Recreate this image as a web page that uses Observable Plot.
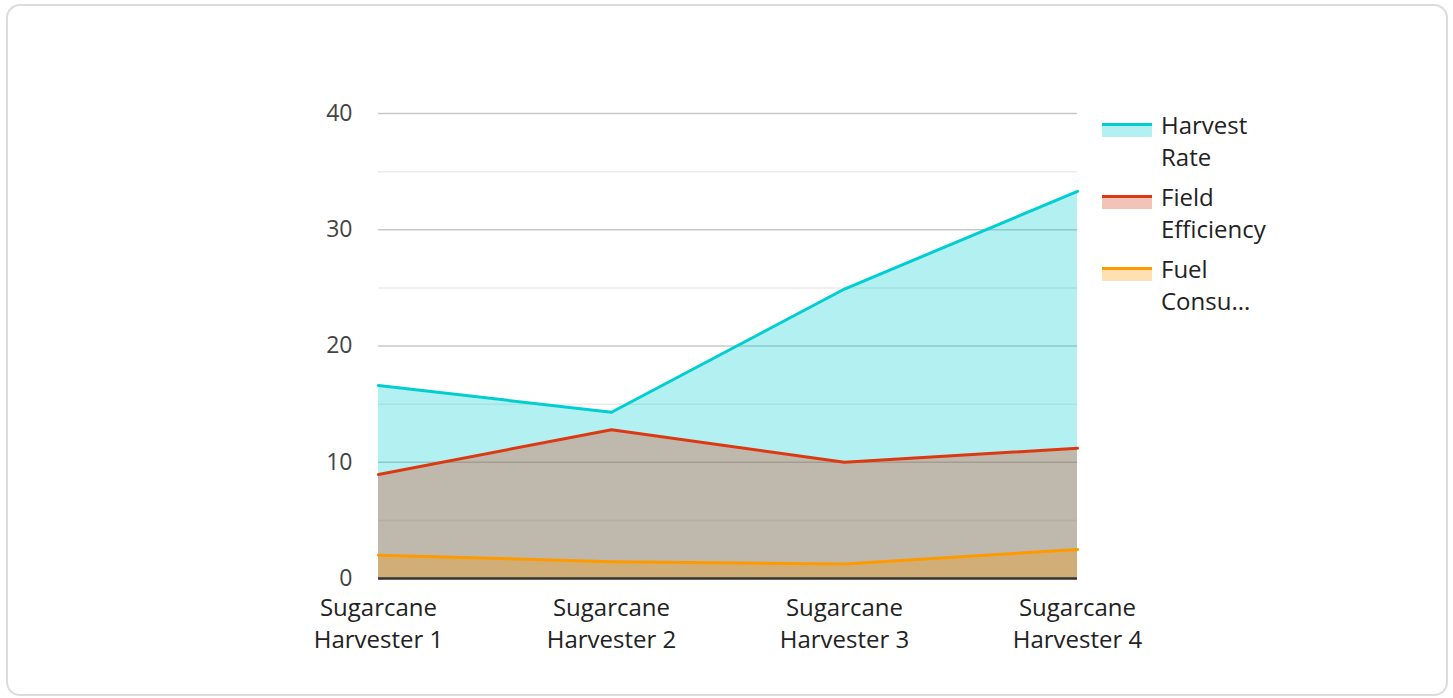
<!DOCTYPE html>
<html>
<head>
<meta charset="utf-8">
<script src="https://cdn.jsdelivr.net/npm/d3@7"></script>
<script src="https://cdn.jsdelivr.net/npm/@observablehq/plot@0.6"></script>
<style>
  html, body { margin: 0; padding: 0; background: #fff; }
  body { width: 1453px; height: 698px; position: relative; overflow: hidden; font-family: "Open Sans", "Noto Sans", sans-serif; }
  #card { position: absolute; left: 6px; top: 4px; width: 1438px; height: 688px; border: 2px solid #dcdcdc; border-radius: 14px; box-sizing: content-box; }
  #chart { position: absolute; left: 0; top: 0; }
  #legend { position: absolute; left: 1102px; top: 109px; }
  .item { display: flex; align-items: flex-start; margin-bottom: 8px; }
  .sw { width: 50px; height: 14px; margin-top: 14px; margin-right: 9px; position: relative; }
  .sw .ln { position: absolute; left: 0; top: 0; width: 50px; height: 3px; }
  .sw .fl { position: absolute; left: 0; top: 3px; width: 50px; height: 11px; opacity: 0.3; }
  .lab { font-size: 24px; line-height: 32px; color: #222; }
</style>
</head>
<body>
<div id="card"></div>
<div id="chart"></div>
<div id="legend"></div>
<script>
const categories = ["Sugarcane Harvester 1", "Sugarcane Harvester 2", "Sugarcane Harvester 3", "Sugarcane Harvester 4"];
const seriesNames = ["Harvest Rate", "Field Efficiency", "Fuel Consumption"];
const legendLabels = [["Harvest", "Rate"], ["Field", "Efficiency"], ["Fuel", "Consu..."]];
const colors = ["#00ced1", "#dc3912", "#ff9900"];
const harvestRate = [16.6, 14.3, 24.9, 33.3];
const fieldEfficiency = [8.95, 12.8, 10.0, 11.2];
const fuelConsumption = [2.0, 1.45, 1.25, 2.5];
const yTickLabels = [0, 10, 20, 30, 40];
const majorGrid = [10, 20, 30, 40];
const minorGrid = [5, 15, 25, 35];

const seriesValues = [harvestRate, fieldEfficiency, fuelConsumption];
const tables = seriesValues.map((vals, i) => categories.map((c, j) => ({category: c, value: vals[j], series: seriesNames[i]})));

const marks = [
  Plot.ruleY(minorGrid, {stroke: "#ebebeb", strokeWidth: 1.5}),
  Plot.ruleY(majorGrid, {stroke: "#c8c8c8", strokeWidth: 1.5}),
];
tables.forEach((t, i) => {
  marks.push(Plot.areaY(t, {x: "category", y: "value", fill: colors[i], fillOpacity: 0.3}));
});
tables.forEach((t, i) => {
  marks.push(Plot.lineY(t, {x: "category", y: "value", stroke: colors[i], strokeWidth: 3}));
});
marks.push(Plot.ruleY([0], {stroke: "#333", strokeWidth: 2.5}));
marks.push(Plot.axisY({ticks: yTickLabels, tickSize: 0, tickPadding: 26, fontSize: 23, fill: "#444", tickFormat: d => String(d)}));
marks.push(Plot.axisX({tickSize: 0, tickPadding: 14, fontSize: 24, fill: "#222", lineHeight: 1.36, tickFormat: d => d.replace(" Harvester", "\nHarvester")}));

const chart = Plot.plot({
  width: 1453,
  height: 698,
  marginLeft: 378,
  marginRight: 376,
  marginTop: 113,
  marginBottom: 120,
  style: {background: "transparent", fontFamily: "'Open Sans', 'Noto Sans', sans-serif"},
  x: {type: "point", domain: categories, padding: 0, label: null},
  y: {domain: [0, 40], label: null},
  marks
});
document.getElementById("chart").appendChild(chart);

const legend = document.getElementById("legend");
seriesNames.forEach((n, i) => {
  const it = document.createElement("div");
  it.className = "item";
  it.innerHTML = `<div class="sw"><div class="fl" style="background:${colors[i]}"></div><div class="ln" style="background:${colors[i]}"></div></div><div class="lab">${legendLabels[i].join("<br>")}</div>`;
  legend.appendChild(it);
});
</script>
</body>
</html>
